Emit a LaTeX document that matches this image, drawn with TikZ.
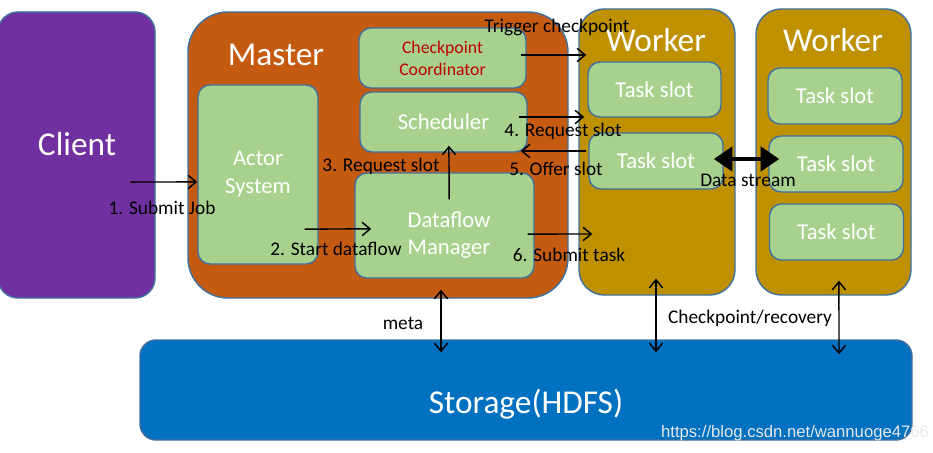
\documentclass[tikz,border=0pt]{standalone}
\usepackage{fontspec}
\setmainfont{Carlito}
\newfontfamily\wmfont{Liberation Sans}
\usetikzlibrary{arrows.meta}
\definecolor{clientc}{HTML}{7030A0}
\definecolor{masterc}{HTML}{C55A11}
\definecolor{workerc}{HTML}{BF9000}
\definecolor{storec}{HTML}{0070C0}
\definecolor{greenc}{HTML}{A9D18E}
\definecolor{edgec}{HTML}{41719C}
\definecolor{ckptc}{HTML}{C00000}
\tikzset{
  part/.style={draw=edgec, line width=1.1pt, inner sep=0pt},
  comp/.style={part, fill=greenc, rounded corners=9pt, text=white, align=center,
    font=\fontsize{17}{21}\selectfont},
  title/.style={text=white, inner sep=0pt, font=\fontsize{25}{29}\selectfont},
  lbl/.style={inner sep=0pt, font=\fontsize{14.5}{17}\selectfont},
  arr/.style={-{Straight Barb[length=6pt,width=10pt]}, line width=1.1pt},
  both/.style={{Straight Barb[length=6pt,width=10pt]}-{Straight Barb[length=6pt,width=10pt]}, line width=1.1pt}
}
\begin{document}
\begin{tikzpicture}[x=0.75pt,y=-0.75pt]
  \useasboundingbox (0,0) rectangle (933,453);
  % outer blocks
  \node[part, fill=clientc, rounded corners=15pt, minimum width=117.75pt, minimum height=214.5pt] (client) at (76.5,155) {};
  \node[part, fill=masterc, rounded corners=30pt, minimum width=285pt, minimum height=214.5pt] (master) at (378,155) {};
  \node[part, fill=workerc, rounded corners=19pt, minimum width=117pt, minimum height=214.5pt] (w1) at (657,152) {};
  \node[part, fill=workerc, rounded corners=19pt, minimum width=116.25pt, minimum height=214.5pt] (w2) at (833.5,152) {};
  \node[part, fill=storec, rounded corners=12pt, minimum width=579pt, minimum height=75pt] (hdfs) at (526,390) {};
  \node[title] (clienttxt) at (77,144) {Client};
  \node[title] (mastertxt) at (276,55) {Master};
  \node[title] (w1txt) at (656,40) {Worker};
  \node[title] (w2txt) at (833,40) {Worker};
  \node[title] (hdfstxt) at (526,404) {Storage(HDFS)};
  % master parts
  \node[comp, minimum width=90pt, minimum height=134.25pt] (actor) at (258,174.5) {Actor\\System};
  \node[comp, text=ckptc, font=\fontsize{13.3}{16.5}\selectfont, minimum width=125.25pt, minimum height=45pt] (ckpt) at (442.5,58) {Checkpoint\\Coordinator};
  \node[comp, minimum width=125.25pt, minimum height=45pt] (sched) at (443.5,122) {Scheduler};
  \node[comp, minimum width=134.25pt, minimum height=78.75pt] (dm) at (444.5,225.5) {};
  \node[text=white, align=center, inner sep=0pt, font=\fontsize{17}{20.5}\selectfont] (dmtxt) at (449,235) {Dataflow\\Manager};
  % task slots
  \node[comp, minimum width=99.75pt, minimum height=41.25pt] (s1a) at (654.5,89.5) {Task slot};
  \node[comp, minimum width=100.5pt, minimum height=42pt] (s1b) at (656,161) {Task slot};
  \node[comp, minimum width=100.5pt, minimum height=42pt] (s2a) at (835,96) {Task slot};
  \node[comp, minimum width=100.5pt, minimum height=42pt] (s2b) at (836,164) {Task slot};
  \node[comp, minimum width=100.5pt, minimum height=42pt] (s2c) at (836.5,232) {Task slot};
  % connectors
  \draw[arr, shorten <=-18.75pt] ([yshift=-20.25pt]client.east) -- ([yshift=-5.6pt]actor.west);
  \draw[arr, shorten <=-10.5pt, shorten >=-12.75pt] ([yshift=-40.9pt]actor.east) -- ([yshift=-2.6pt]dm.west);
  \draw[arr, shorten <=-20.25pt, shorten >=-5.25pt] ([xshift=3.4pt]dm.north) -- ([xshift=4.1pt]sched.south);
  \draw[arr, shorten <=-4.5pt, shorten >=-6pt] ([yshift=2.25pt]ckpt.east) -- ([yshift=72.75pt]w1.west);
  \draw[arr, shorten <=-6.75pt, shorten >=-4.5pt] ([yshift=3.75pt]sched.east) -- ([yshift=26.25pt]w1.west);
  \draw[arr, shorten <=-6pt, shorten >=-5.25pt] ([yshift=0.75pt]w1.west) -- ([yshift=-21.75pt]sched.east);
  \draw[arr, shorten <=-5.25pt, shorten >=-10.5pt] ([yshift=-6.4pt]dm.east) -- ([yshift=-61.5pt]w1.west);
  \draw[line width=3.6pt, {Triangle[length=14pt,width=18pt]}-{Triangle[length=14pt,width=18pt]}, shorten <=-7.5pt, shorten >=-8.25pt] ([yshift=1.5pt]s1b.east) -- ([yshift=3.75pt]s2b.west);
  \draw[both, shorten <=-6.75pt, shorten >=-9.75pt] ([xshift=47.25pt]master.south) -- ([xshift=-63.75pt]hdfs.north);
  \draw[both, shorten <=-12.75pt, shorten >=-9.75pt] ([xshift=-0.75pt]w1.south) -- ([xshift=97.5pt]hdfs.north);
  \draw[both, shorten <=-11.25pt, shorten >=-11.25pt] ([xshift=4.1pt]w2.south) -- ([xshift=234.75pt]hdfs.north);
  % labels
  \node[lbl] (l1) at (162,208) {1. Submit Job};
  \node[lbl] (l2) at (336,249) {2. Start dataflow};
  \node[lbl] (l3) at (381,166) {3. Request slot};
  \node[lbl] (ltrig) at (557,27) {Trigger checkpoint};
  \node[lbl] (l4) at (563,131) {4. Request slot};
  \node[lbl] (l5) at (556,169) {5. Offer slot};
  \node[lbl] (l6) at (569,255) {6. Submit task};
  \node[lbl] (lstream) at (748,180) {Data stream};
  \node[lbl] (lmeta) at (403,323) {meta};
  \node[lbl] (lrec) at (750,318) {Checkpoint/recovery};
  \node[lbl, text=white!82!gray, font=\wmfont\fontsize{12.5}{14}\selectfont] (wm) at (795,433) {https://blog.csdn.net/wannuoge4766};
\end{tikzpicture}
\end{document}
